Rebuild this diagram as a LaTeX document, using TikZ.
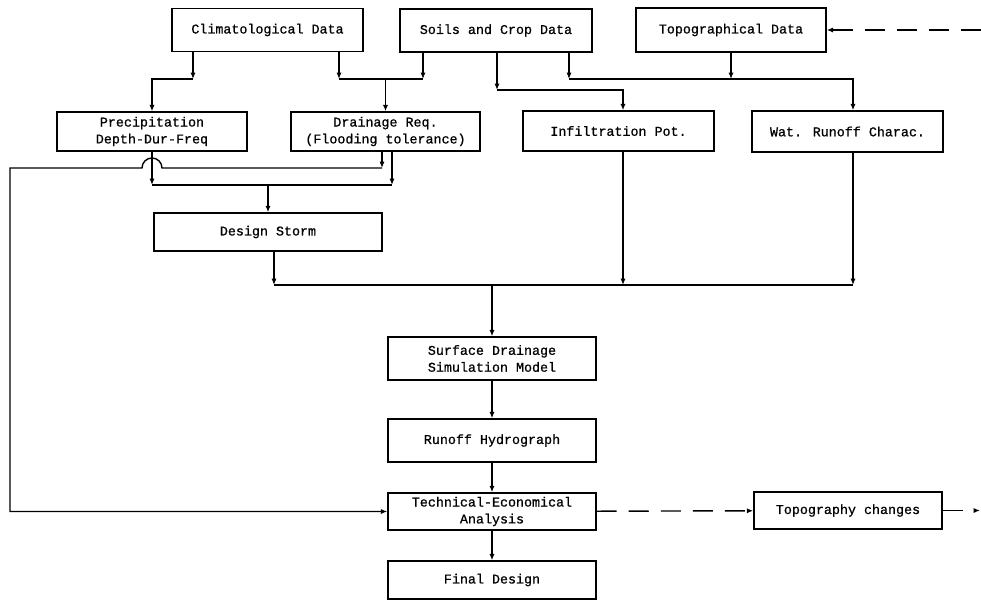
\documentclass[tikz,border=0pt]{standalone}
\usepackage{fontspec}
\newfontfamily\twfont[FakeBold=0.8]{Liberation Mono}
\usetikzlibrary{arrows.meta}

\begin{document}
\begin{tikzpicture}[x=0.025cm,y=-0.025cm,
  box/.style={draw,line width=1pt,align=center,inner sep=1pt,font=\twfont\fontsize{9.5}{12}\selectfont},
  flow/.style={line width=1pt,-{Latex[length=4.5pt,width=3.6pt]}},
  link/.style={line width=1pt},
  dflow/.style={flow,dash pattern=on 0.5cm off 0.3cm}]
  \useasboundingbox (0,0) rectangle (981,600);
  % Input data
  \node[box,minimum width=4.775cm,minimum height=1.075cm] (clim) at (267.5,30) {Climatological Data};
  \node[box,minimum width=4.8cm,minimum height=1.075cm] (soils) at (496,30.5) {Soils and Crop Data};
  \node[box,minimum width=4.75cm,minimum height=1.1cm] (topo) at (731,30) {Topographical Data};
  % Derived quantities
  \node[box,minimum width=4.75cm,minimum height=0.975cm] (precip) at (152,131.5) {Precipitation\\Depth-Dur-Freq};
  \node[box,minimum width=4.725cm,minimum height=0.975cm] (drain) at (385.5,131.5) {Drainage Req.\\(Flooding tolerance)};
  \node[box,minimum width=4.775cm,minimum height=1cm] (infil) at (618.5,131) {Infiltration Pot.};
  \node[box,minimum width=4.775cm,minimum height=1.025cm] (runoffc) at (847.5,131.5) {Wat. Runoff Charac.};
  \node[box,minimum width=5.7cm,minimum height=0.95cm] (storm) at (268,232) {Design Storm};
  % Main chain
  \node[box,minimum width=5.2cm,minimum height=1.075cm] (sim) at (492,358.5) {Surface Drainage\\Simulation Model};
  \node[box,minimum width=5.2cm,minimum height=1.075cm] (hydro) at (492,440.5) {Runoff Hydrograph};
  \node[box,minimum width=5.2cm,minimum height=0.925cm] (tech) at (492,511.5) {Technical-Economical\\Analysis};
  \node[box,minimum width=5.2cm,minimum height=0.95cm] (final) at (492,580) {Final Design};
  \node[box,minimum width=4.7cm,minimum height=0.925cm] (topochg) at (848,510.5) {Topography changes};
  % Junction points
  \coordinate (a1) at (193,79);
  \coordinate (b1) at (339,79);
  \coordinate (b2) at (423,79);
  \coordinate (c1) at (497,90);
  \coordinate (d1) at (569,79);
  \coordinate (e1) at (152,185);
  \coordinate (e2) at (392,185);
  \coordinate (f1) at (382,168);
  \coordinate (hopR) at (162,168);
  \coordinate (f2) at (10,168);
  \coordinate (g1) at (274,285);
  \coordinate (g2) at (853,285);
  \coordinate (g3) at (623,285);
  \coordinate (edgeB) at (980,510.5);
  \coordinate (edgeT) at (981,30);
  % Data to derived quantities
  \draw[flow] (clim.south -| a1) -- (a1);
  \draw[flow] (a1) -| (precip);
  \draw[flow] (clim.south -| b1) -- (b1);
  \draw[flow] (soils.south -| b2) -- (b2);
  \draw[link] (b1) -- (b2);
  \draw[flow] (b1 -| drain) -- (drain);
  \draw[flow] (soils.south -| c1) -- (c1);
  \draw[flow] (c1) -| (infil.north -| g3);
  \draw[flow] (soils.south -| d1) -- (d1);
  \draw[flow] (topo) -- (topo |- d1);
  \draw[flow] (d1) -| (runoffc.north -| g2);
  % Design storm
  \draw[flow] (precip) -- (e1);
  \draw[flow] (drain.south -| e2) -- (e2);
  \draw[link] (e1) -- (e2);
  \draw[flow] (e1 -| storm) -- (storm);
  % Flooding tolerance to analysis
  \draw[flow] (drain.south -| f1) -- (f1);
  \draw[flow] (f1) -- (hopR) arc[start angle=0,end angle=-180,radius=10] -- (f2) |- (tech);
  % Into the model
  \draw[flow] (storm.south -| g1) -- (g1);
  \draw[flow] (infil.south -| g3) -- (g3);
  \draw[flow] (runoffc.south -| g2) -- (g2);
  \draw[link] (g1) -- (g2);
  \draw[flow] (g1 -| sim) -- (sim);
  \draw[flow] (sim) -- (hydro);
  \draw[flow] (hydro) -- (tech);
  \draw[flow] (tech) -- (final);
  % Topography loop
  \draw[dflow] (tech) -- (topochg);
  \draw[dflow] (topochg) -- (edgeB);
  \draw[dflow] (edgeT) -- (topo);
\end{tikzpicture}
\end{document}
